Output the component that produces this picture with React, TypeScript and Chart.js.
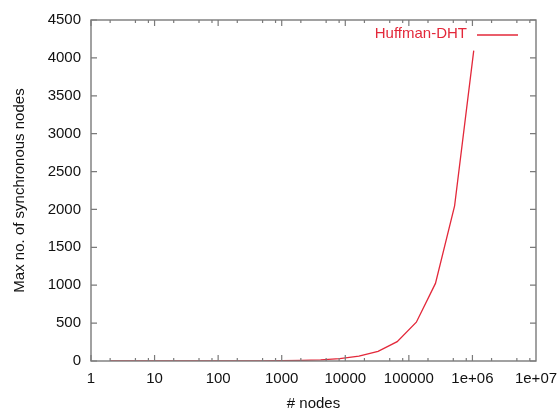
import React, { useEffect, useRef } from "react";
import { Chart, registerables } from "chart.js";

Chart.register(...registerables);

const nodeCounts = [2, 4, 8, 16, 32, 64, 128, 256, 512, 1024, 2048, 4096, 8192, 16384, 32768, 65536, 131072, 262144, 524288, 1048576];
const maxSyncNodes = [1, 1, 1, 1, 1, 1, 1, 1, 2, 4, 8, 16, 32, 64, 128, 256, 512, 1024, 2048, 4096];
const xTickValues = [1, 10, 100, 1000, 10000, 100000, 1000000, 10000000];
const xTickLabels = ["1", "10", "100", "1000", "10000", "100000", "1e+06", "1e+07"];
const seriesName = "Huffman-DHT";
const xTitle = "# nodes";
const yTitle = "Max no. of synchronous nodes";

const RED = "#e3283a";
const AXIS = "#7a7a7a";
const FONT = "'Liberation Sans', Arial, sans-serif";
const FS = 15;

const framePlugin = {
  id: "gnuframe",
  afterDatasetsDraw(chart: any) {
    const { ctx, chartArea: a, scales } = chart;
    const xs = scales.x;
    const ys = scales.y;
    ctx.save();
    ctx.strokeStyle = AXIS;
    ctx.lineWidth = 1.4;
    ctx.strokeRect(a.left, a.top, a.right - a.left, a.bottom - a.top);
    ctx.lineWidth = 1.2;
    ctx.beginPath();
    for (let d = 0; d < 7; d++) {
      const base = Math.pow(10, d);
      for (const m of [1, 2, 5, 8]) {
        const v = base * m;
        const px = xs.getPixelForValue(v);
        const len = m === 1 ? 6 : 3;
        ctx.moveTo(px, a.bottom);
        ctx.lineTo(px, a.bottom - len);
        ctx.moveTo(px, a.top);
        ctx.lineTo(px, a.top + len);
      }
    }
    for (let v = 0; v <= 4500; v += 500) {
      const py = ys.getPixelForValue(v);
      ctx.moveTo(a.left, py);
      ctx.lineTo(a.left + 6, py);
      ctx.moveTo(a.right, py);
      ctx.lineTo(a.right - 6, py);
    }
    ctx.stroke();

    ctx.font = `${FS}px ${FONT}`;
    ctx.fillStyle = RED;
    ctx.textAlign = "right";
    ctx.textBaseline = "middle";
    ctx.fillText(seriesName, a.right - 69, a.top + 14);
    ctx.strokeStyle = RED;
    ctx.lineWidth = 1.3;
    ctx.beginPath();
    ctx.moveTo(a.right - 59, a.top + 15);
    ctx.lineTo(a.right - 18, a.top + 15);
    ctx.stroke();

    ctx.fillStyle = "#111";
    ctx.textAlign = "center";
    ctx.textBaseline = "middle";
    ctx.fillText(xTitle, (a.left + a.right) / 2, 404);
    ctx.save();
    ctx.translate(20, (a.top + a.bottom) / 2);
    ctx.rotate(-Math.PI / 2);
    ctx.fillText(yTitle, 0, 0);
    ctx.restore();
    ctx.restore();
  },
};

export default function App() {
  const ref = useRef<HTMLCanvasElement | null>(null);
  useEffect(() => {
    if (!ref.current) return;
    const chart = new Chart(ref.current, {
      type: "line",
      data: {
        datasets: [
          {
            label: seriesName,
            data: nodeCounts.map((n, i) => ({ x: n, y: maxSyncNodes[i] })),
            borderColor: RED,
            borderWidth: 1.3,
            pointRadius: 0,
            fill: false,
            tension: 0,
          },
        ],
      },
      options: {
        animation: false,
        responsive: false,
        maintainAspectRatio: false,
        layout: { padding: { top: 20, right: 24, left: 0, bottom: 0 } },
        plugins: { legend: { display: false }, tooltip: { enabled: false } },
        scales: {
          x: {
            type: "logarithmic",
            min: 1,
            max: 10000000,
            grid: { display: false, drawTicks: false },
            border: { display: false },
            afterBuildTicks: (scale: any) => {
              scale.ticks = xTickValues.map((v) => ({ value: v }));
            },
            afterFit: (scale: any) => {
              scale.height = 52;
              scale.paddingRight = 0;
              scale.paddingLeft = 0;
            },
            ticks: {
              autoSkip: false,
              maxRotation: 0,
              padding: 9,
              color: "#111",
              font: { family: FONT, size: FS },
              callback: (v: any) => {
                const idx = xTickValues.indexOf(Number(v));
                return idx >= 0 ? xTickLabels[idx] : "";
              },
            },
          },
          y: {
            min: 0,
            max: 4500,
            grid: { display: false, drawTicks: false },
            border: { display: false },
            afterFit: (scale: any) => {
              scale.width = 91;
              scale.paddingTop = 0;
              scale.paddingBottom = 0;
            },
            ticks: {
              stepSize: 500,
              padding: 10,
              color: "#111",
              font: { family: FONT, size: FS },
              callback: (v: any) => String(v),
            },
          },
        },
      },
      plugins: [framePlugin],
    });
    return () => chart.destroy();
  }, []);
  return (
    <div style={{ position: "fixed", left: 0, top: 0, width: 560, height: 413, background: "#fff" }}>
      <canvas ref={ref} width={560} height={413} style={{ width: 560, height: 413 }} />
    </div>
  );
}
